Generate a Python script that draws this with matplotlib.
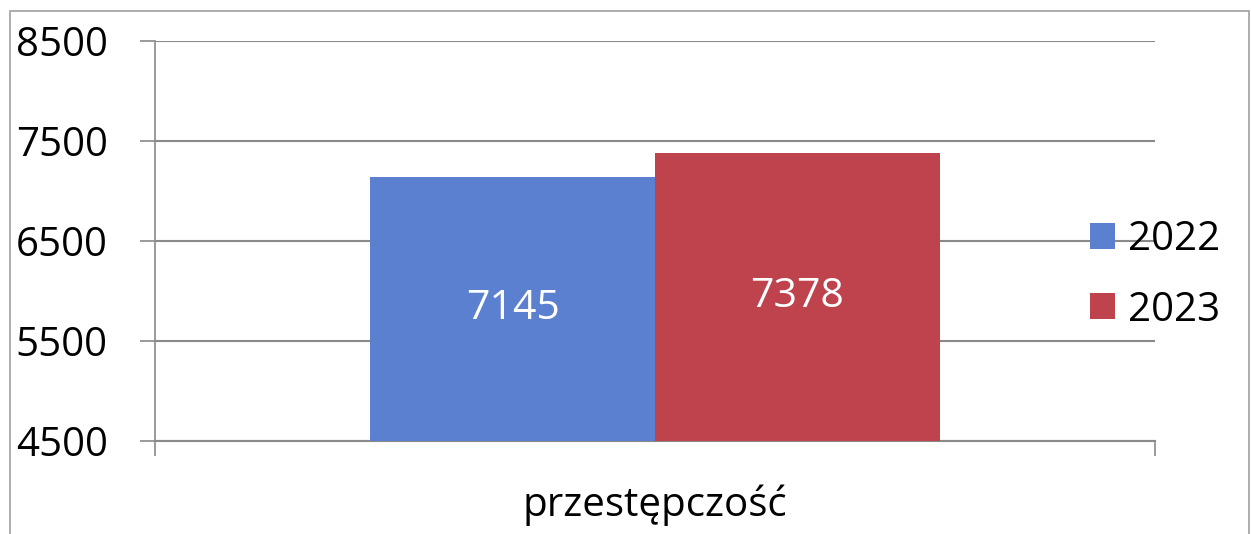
import matplotlib
matplotlib.use("Agg")
import matplotlib.pyplot as plt
from matplotlib.patches import Rectangle
import numpy as np

categories = ["przestępczość"]
series_names = ["2022", "2023"]
values_2022 = [7145]
values_2023 = [7378]
yticks = [4500, 5500, 6500, 7500, 8500]
colors = ["#5b80cf", "#bf434d"]

plt.rcParams['font.family'] = ['Open Sans', 'DejaVu Sans']

W, H = 1251, 534
fig = plt.figure(figsize=(W / 100, H / 100), dpi=100)
ax = fig.add_axes([155 / W, 1 - 441 / H, 1000 / W, 400 / H])

x = np.arange(len(categories))
bw = 0.285
series = [values_2022, values_2023]
base = yticks[0]
for i, (name, vals) in enumerate(zip(series_names, series)):
    off = (i - 0.5) * bw
    bars = ax.bar(x + off, [v - base for v in vals], bw, bottom=base,
                  color=colors[i], label=name, zorder=3)
    for b, v in zip(bars, vals):
        ax.text(b.get_x() + b.get_width() / 2, base + (v - base) / 2, str(v),
                ha='center', va='center', color='white', fontsize=29.5, zorder=4)

ax.set_xlim(-0.5, 0.5)
ax.set_ylim(yticks[0], yticks[-1])
ax.set_yticks(yticks)
ax.set_yticklabels([str(t) for t in yticks], fontsize=29)
ax.yaxis.grid(True, color='#8a8a8a', linewidth=1.5, zorder=1)
ax.set_axisbelow(True)
ax.tick_params(axis='y', length=11, width=1.2, color='#8a8a8a', pad=23, direction='out')

ax.set_xticks([-0.5, 0.5])
ax.set_xticklabels(['', ''])
ax.tick_params(axis='x', length=11, width=1.2, color='#8a8a8a', direction='out')
ax.text(0, -0.16, categories[0], transform=ax.get_xaxis_transform(),
        ha='center', va='center', fontsize=29)

for s in ['top', 'right']:
    ax.spines[s].set_visible(False)
ax.spines['left'].set_color('#8a8a8a')
ax.spines['bottom'].set_color('#8a8a8a')
ax.spines['left'].set_linewidth(1.2)
ax.spines['bottom'].set_linewidth(1.5)

leg = fig.legend(loc='center left', bbox_to_anchor=(1090 / W, 1 - 275 / H),
                 frameon=False, fontsize=29, handlelength=0.62, handleheight=0.62,
                 handletextpad=0.32, labelspacing=0.75, borderpad=0, borderaxespad=0)

fig.patches.append(Rectangle((10 / W, -0.1), 1239 / W, 1 - 11 / H + 0.1,
                             transform=fig.transFigure, fill=False,
                             edgecolor='#a0a0a0', linewidth=1.2))

fig.savefig("out.png", dpi=100)
